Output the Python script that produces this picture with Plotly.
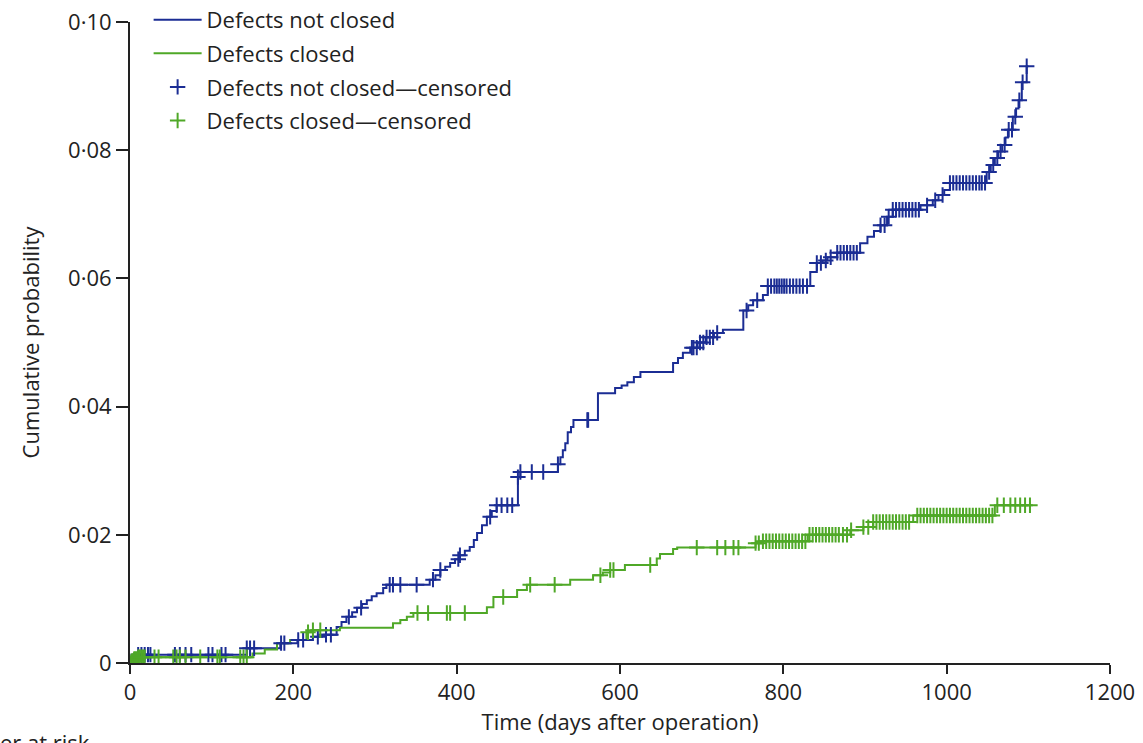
import numpy as np
import plotly.graph_objects as go

# ---- data ----
blue_times = [0, 4, 143, 184, 205, 224, 235, 253, 259, 265, 272, 278, 284, 290, 296, 302, 310, 314,
              367, 374, 380, 386, 392, 398, 404, 410, 416, 421, 425, 431, 437, 443, 449, 475, 478,
              524, 527, 530, 533, 536, 540, 543, 573, 594, 602, 609, 617, 625, 665, 671, 677, 686,
              695, 705, 715, 726, 751, 757, 763, 775, 781, 833, 841, 848, 854, 866, 894, 903, 911,
              919, 927, 934, 968, 983, 990, 997, 1004, 1049, 1054, 1059, 1063, 1068, 1072, 1075,
              1081, 1085, 1088, 1092, 1098, 1100]
blue_prob = [0, 0.0013, 0.0023, 0.0031, 0.0036, 0.0041, 0.0044, 0.0056, 0.0064, 0.0072, 0.0079, 0.0086,
             0.0092, 0.0098, 0.0104, 0.0109, 0.0117, 0.0122, 0.0130, 0.0137, 0.0145, 0.0150, 0.0156,
             0.0162, 0.0168, 0.0175, 0.0181, 0.0192, 0.0203, 0.0215, 0.0228, 0.0237, 0.0246, 0.0290,
             0.0298, 0.0310, 0.0321, 0.0332, 0.0343, 0.0360, 0.0368, 0.0379, 0.0421, 0.0429, 0.0433,
             0.0438, 0.0446, 0.0454, 0.0468, 0.0476, 0.0484, 0.0492, 0.0500, 0.0508, 0.0515, 0.0520,
             0.0550, 0.0558, 0.0566, 0.0574, 0.0588, 0.0610, 0.0624, 0.0628, 0.0633, 0.0640, 0.0655,
             0.0665, 0.0674, 0.0683, 0.0696, 0.0707, 0.0714, 0.0722, 0.0730, 0.0738, 0.0749, 0.0766,
             0.0777, 0.0788, 0.0798, 0.0808, 0.0820, 0.0832, 0.0852, 0.0865, 0.0878, 0.0906, 0.0931,
             0.0931]

green_times = [0, 2, 5, 10, 150, 165, 180, 196, 216, 222, 257, 322, 331, 339, 347, 437, 445, 474, 486,
               539, 567, 579, 588, 606, 645, 649, 665, 670, 766, 775, 830, 882, 898, 910, 959, 1059, 1102]
green_prob = [0, 0.0003, 0.0006, 0.0009, 0.0015, 0.0021, 0.0031, 0.0036, 0.0048, 0.0051, 0.0055, 0.0062,
              0.0067, 0.0072, 0.0078, 0.0087, 0.0103, 0.0114, 0.0122, 0.0130, 0.0137, 0.0141, 0.0145,
              0.0153, 0.0163, 0.0170, 0.0178, 0.0180, 0.0187, 0.0190, 0.0200, 0.0207, 0.0212, 0.0220,
              0.0230, 0.0246, 0.0246]

blue_censored = [10, 14, 18, 22, 25, 55, 61, 68, 75, 96, 101, 112, 117, 143, 147, 152, 185, 189, 206,
                 212, 230, 240, 246, 268, 283, 318, 322, 331, 351, 371, 380, 402, 404, 441, 449, 455,
                 462, 468, 475, 478, 492, 506, 524, 560, 561, 688, 690, 694, 698, 702, 706, 710, 714,
                 719, 755, 768, 781, 785, 789, 792, 795, 798, 801, 804, 808, 812, 816, 820, 824, 829,
                 841, 846, 852, 858, 866, 870, 874, 878, 882, 886, 890, 919, 924, 929, 934, 938, 942,
                 946, 950, 954, 958, 962, 966, 976, 986, 995, 1004, 1008, 1012, 1016, 1020, 1024, 1028,
                 1032, 1036, 1040, 1043, 1047, 1052, 1057, 1062, 1066, 1071, 1076, 1080, 1084, 1089,
                 1093, 1098]
green_censored = [1, 2, 3, 4, 5, 6, 7, 8, 9, 10, 12, 14, 16, 18, 30, 35, 53, 57, 61, 68, 86, 107, 110,
                  135, 139, 143, 218, 224, 233, 352, 365, 388, 392, 410, 457, 490, 520, 576, 588, 592,
                  637, 694, 719, 729, 739, 745, 766, 770, 775, 779, 783, 787, 791, 795, 799, 803, 807,
                  811, 815, 819, 823, 827, 832, 836, 840, 844, 848, 852, 856, 860, 864, 868, 873, 878,
                  883, 898, 904, 910, 914, 918, 922, 926, 930, 934, 938, 942, 946, 950, 954, 964, 968,
                  972, 976, 980, 984, 988, 992, 996, 1000, 1004, 1008, 1012, 1016, 1020, 1024, 1028,
                  1032, 1036, 1040, 1044, 1048, 1052, 1056, 1062, 1070, 1078, 1084, 1090, 1096, 1102]

x_tick_vals = [0, 200, 400, 600, 800, 1000, 1200]
x_tick_text = ["0", "200", "400", "600", "800", "1000", "1200"]
y_tick_vals = [0, 0.02, 0.04, 0.06, 0.08, 0.10]
y_tick_text = ["0", "0·02", "0·04", "0·06", "0·08", "0·10"]

BLUE = "#1b2d94"
GREEN = "#4fa827"
INK = "#222222"
FONT = "Open Sans"
FS = 22


def step_value(times, probs, at):
    t = np.asarray(times, dtype=float)
    p = np.asarray(probs, dtype=float)
    idx = np.searchsorted(t, np.asarray(at, dtype=float), side="right") - 1
    return p[np.clip(idx, 0, len(p) - 1)]


fig = go.Figure()
fig.add_trace(go.Scatter(x=blue_times, y=blue_prob, mode="lines", line_shape="hv",
                         line=dict(color=BLUE, width=2), name="Defects not closed", legendgroup="g1"))
fig.add_trace(go.Scatter(x=green_times, y=green_prob, mode="lines", line_shape="hv",
                         line=dict(color=GREEN, width=2), name="Defects closed", legendgroup="g2"))
fig.add_trace(go.Scatter(x=blue_censored, y=step_value(blue_times, blue_prob, blue_censored),
                         mode="markers", name="Defects not closed—censored", legendgroup="g3",
                         marker=dict(symbol="cross-thin", size=11, color=BLUE,
                                     line=dict(color=BLUE, width=2))))
fig.add_trace(go.Scatter(x=green_censored, y=step_value(green_times, green_prob, green_censored),
                         mode="markers", name="Defects closed—censored", legendgroup="g4",
                         marker=dict(symbol="cross-thin", size=11, color=GREEN,
                                     line=dict(color=GREEN, width=2))))

axis_common = dict(showgrid=False, zeroline=False, showline=True, linecolor=INK, linewidth=2,
                   ticks="outside", tickwidth=2, tickcolor=INK, automargin=False,
                   ticklabeloverflow="allow",
                   tickfont=dict(family=FONT, size=FS, color=INK))

fig.update_layout(
    width=1143, height=743,
    margin=dict(l=130, r=33, t=22, b=80, autoexpand=False),
    paper_bgcolor="white", plot_bgcolor="white",
    font=dict(family=FONT, size=FS, color=INK),
    xaxis=dict(range=[0, 1200], tickvals=x_tick_vals, ticktext=x_tick_text, ticklen=9,
               title=dict(text="Time (days after operation)", font=dict(family=FONT, size=FS, color=INK),
                          standoff=6), **axis_common),
    yaxis=dict(range=[0, 0.10], tickvals=y_tick_vals, ticktext=y_tick_text, ticklen=12,
               title=dict(text="Cumulative probability", font=dict(family=FONT, size=FS, color=INK),
                          standoff=22), **axis_common),
    legend=dict(x=0.019, y=1.036, xanchor="left", yanchor="top", bgcolor="rgba(0,0,0,0)",
                font=dict(family=FONT, size=FS, color=INK), itemwidth=48,
                traceorder="grouped", tracegroupgap=2),
    showlegend=True,
)

fig.add_annotation(text="Number at risk", xref="paper", yref="paper", x=-0.039, y=-0.123,
                   xanchor="right", yanchor="middle", showarrow=False,
                   font=dict(family=FONT, size=FS, color=INK))

# remove the page's default 8px body margin so the figure sits at the window's corner
fig.write_html("out.html", config={"displayModeBar": False},
               post_script="document.body.style.margin='0';")
